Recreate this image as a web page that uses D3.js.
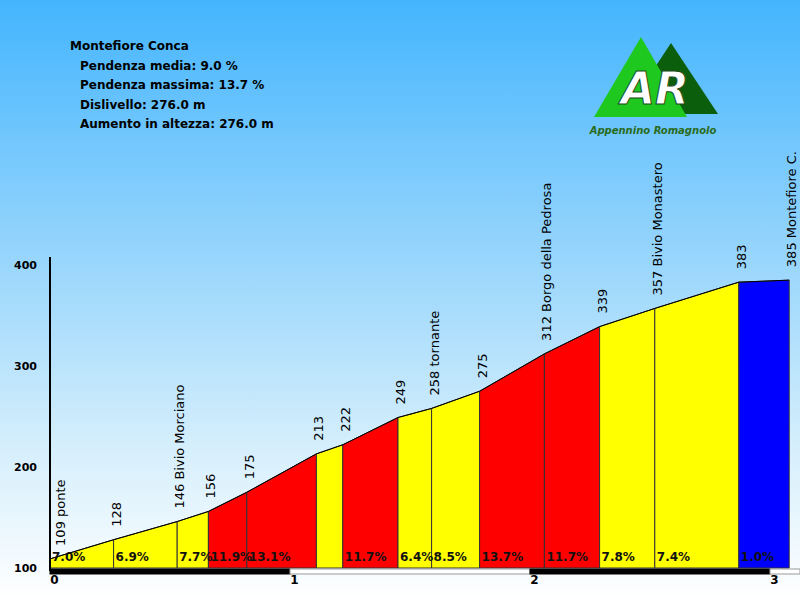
<!DOCTYPE html>
<html>
<head>
<meta charset="utf-8">
<script src="https://cdn.jsdelivr.net/npm/d3@7"></script>
<style>
  html, body { margin: 0; padding: 0; background: #fff; }
  svg { display: block; }
  text { font-family: "DejaVu Sans", Verdana, sans-serif; }
</style>
</head>
<body>
<svg id="chart" width="800" height="600"></svg>
<script>
// ---- data ----
const distancesKm = [0, 0.265, 0.53, 0.66, 0.82, 1.11, 1.22, 1.45, 1.59, 1.79, 2.06, 2.29, 2.52, 2.87, 3.08];
const elevations = [109, 128, 146, 156, 175, 213, 222, 249, 258, 275, 312, 339, 357, 383, 385];
const pointLabels = ["109 ponte", "128", "146 Bivio Morciano", "156", "175", "213", "222", "249",
  "258 tornante", "275", "312 Borgo della Pedrosa", "339", "357 Bivio Monastero", "383", "385 Montefiore C."];
const grades = [7.0, 6.9, 7.7, 11.9, 13.1, 8.0, 11.7, 6.4, 8.5, 13.7, 11.7, 7.8, 7.4, 1.0];
const gradeShown = [true, true, true, true, true, false, true, true, true, true, true, true, true, true];
const yTicks = [100, 200, 300, 400];
const kmTicks = [0, 1, 2, 3];
const titleText = "Montefiore Conca";
const infoLines = ["Pendenza media: 9.0 %", "Pendenza massima: 13.7 %", "Dislivello: 276.0 m", "Aumento in altezza: 276.0 m"];

// ---- drawing ----
const svg = d3.select("#chart");
const W = 800, H = 600;

const defs = svg.append("defs");
const grad = defs.append("linearGradient").attr("id", "sky").attr("x1", 0).attr("y1", 0).attr("x2", 0).attr("y2", 1);
grad.append("stop").attr("offset", "0%").attr("stop-color", "#44b5fe");
grad.append("stop").attr("offset", "40%").attr("stop-color", "#92d3fc");
grad.append("stop").attr("offset", "75%").attr("stop-color", "#d6effc");
grad.append("stop").attr("offset", "100%").attr("stop-color", "#ffffff");
svg.append("rect").attr("width", W).attr("height", H).attr("fill", "url(#sky)");

const x = d3.scaleLinear().domain([0, 3]).range([50, 770]);
const y = d3.scaleLinear().domain([100, 400]).range([568, 265]);

function gradeColor(g) {
  if (g < 3) return "#0000ff";
  if (g < 10) return "#ffff00";
  return "#ff0000";
}

const segs = grades.map((g, i) => ({
  d0: distancesKm[i], d1: distancesKm[i + 1],
  h0: elevations[i], h1: elevations[i + 1],
  g, shown: gradeShown[i]
}));

const segG = svg.append("g");
segG.selectAll("path.seg").data(segs).enter().append("path")
  .attr("class", "seg")
  .attr("d", s => `M${x(s.d0)},${y(100)} L${x(s.d0)},${y(s.h0)} L${x(s.d1)},${y(s.h1)} L${x(s.d1)},${y(100)} Z`)
  .attr("fill", s => gradeColor(s.g))
  .attr("stroke", "#333")
  .attr("stroke-width", 1);

// profile top line
svg.append("path")
  .datum(distancesKm.map((d, i) => [d, elevations[i]]))
  .attr("d", d3.line().x(p => x(p[0])).y(p => y(p[1])))
  .attr("fill", "none").attr("stroke", "#000").attr("stroke-width", 1);

// grade labels
segG.selectAll("text.grade").data(segs.filter(s => s.shown)).enter().append("text")
  .attr("class", "grade")
  .attr("x", s => x(s.d0) + 2)
  .attr("y", 561)
  .attr("font-size", 12).attr("font-weight", "bold").attr("fill", "#111")
  .text(s => s.g.toFixed(1) + "%");

// vertical point labels
svg.selectAll("text.pt").data(pointLabels).enter().append("text")
  .attr("class", "pt")
  .attr("transform", (t, i) => {
    const px = i === 0 ? x(distancesKm[i]) + 15 : x(distancesKm[i]) + 7;
    return `translate(${px},${y(elevations[i]) - 13}) rotate(-90)`;
  })
  .attr("font-size", 13).attr("fill", "#000")
  .text(t => t);

// y axis
const yAxis = d3.axisLeft(y).tickValues(yTicks).tickSize(0).tickPadding(13);
const yg = svg.append("g").attr("transform", "translate(50,0)").call(yAxis);
yg.select(".domain").remove();
yg.selectAll("text").attr("font-size", 11).attr("font-weight", "bold").attr("fill", "#000")
  .attr("font-family", "DejaVu Sans, Verdana, sans-serif");
svg.append("line").attr("x1", 50).attr("x2", 50).attr("y1", 257).attr("y2", 571)
  .attr("stroke", "#000").attr("stroke-width", 2);

// km bar
const kmBands = [0, 1, 2, 3].map(k => ({ k, x0: x(k), x1: Math.min(x(k + 1), W) }));
svg.selectAll("rect.km").data(kmBands).enter().append("rect")
  .attr("class", "km")
  .attr("x", b => b.x0).attr("y", 569)
  .attr("width", b => b.x1 - b.x0).attr("height", 5)
  .attr("fill", b => b.k % 2 === 0 ? "#000" : "#fff")
  .attr("stroke", b => b.k % 2 === 0 ? "#000" : "#999")
  .attr("stroke-width", 1);

const xAxis = d3.axisBottom(x).tickValues(kmTicks).tickSize(0).tickPadding(0).tickFormat(d3.format("d"));
const xg = svg.append("g").attr("transform", "translate(4,575)").call(xAxis);
xg.select(".domain").remove();
xg.selectAll("text").attr("font-size", 12).attr("font-weight", "bold").attr("fill", "#000")
  .attr("font-family", "DejaVu Sans, Verdana, sans-serif");

// header text
svg.append("text").attr("x", 70).attr("y", 50).attr("font-size", 12).attr("font-weight", "bold")
  .attr("fill", "#000").text(titleText);
svg.selectAll("text.info").data(infoLines).enter().append("text")
  .attr("class", "info")
  .attr("x", 80).attr("y", (t, i) => 69.5 + i * 19.6)
  .attr("font-size", 12).attr("font-weight", "bold").attr("fill", "#000")
  .text(t => t);

// logo
const logo = svg.append("g");
logo.append("polygon").attr("points", "671,43 718,114 624,114").attr("fill", "#0b5e0b");
logo.append("polygon").attr("points", "641,37 687,117 594,117").attr("fill", "#1ec81e");
logo.append("text").attr("x", 655).attr("y", 104).attr("text-anchor", "middle")
  .attr("font-family", "DejaVu Serif, serif").attr("font-style", "italic").attr("font-weight", "bold")
  .attr("font-size", 44).attr("fill", "#fff").attr("stroke", "#1b4d1b").attr("stroke-width", 1)
  .text("AR");
logo.append("text").attr("x", 653).attr("y", 134).attr("text-anchor", "middle")
  .attr("font-family", "DejaVu Serif, serif").attr("font-style", "italic").attr("font-weight", "bold")
  .attr("font-size", 10).attr("fill", "#2a6b1a")
  .text("Appennino Romagnolo");
</script>
</body>
</html>
